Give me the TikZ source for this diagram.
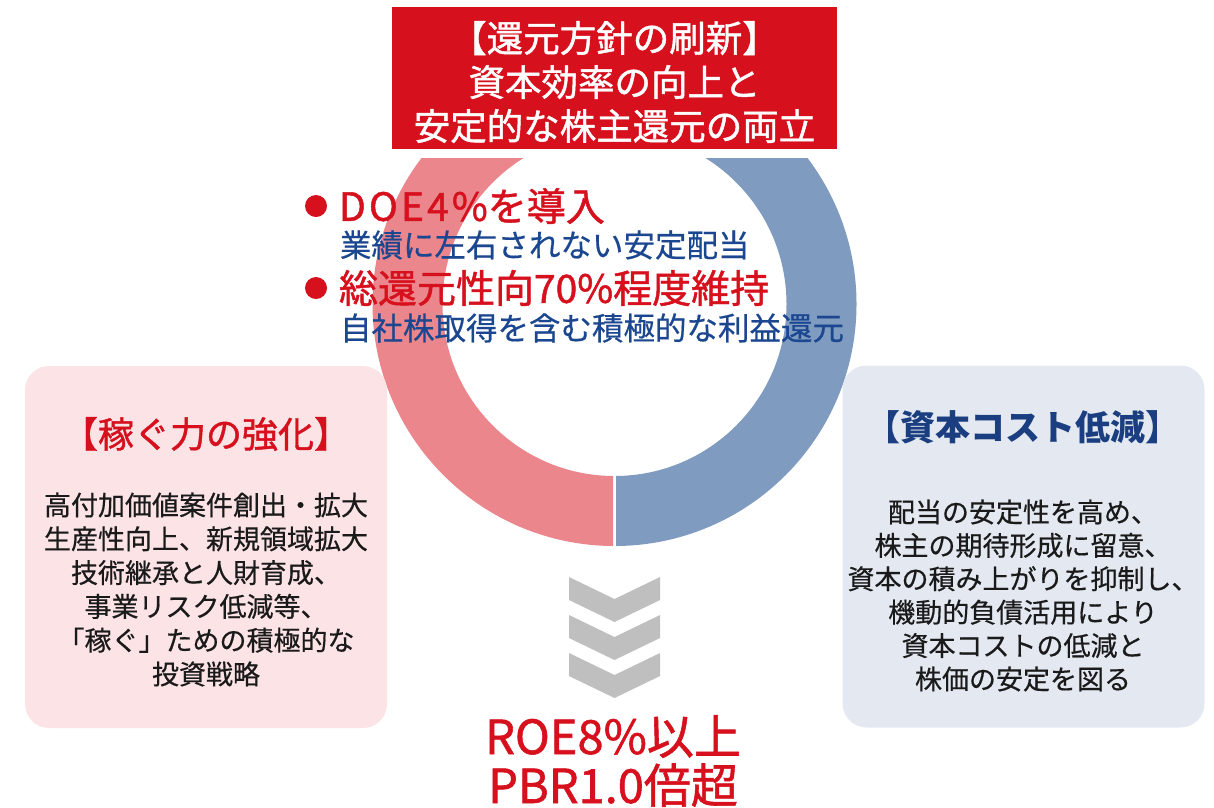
\documentclass[tikz,border=0pt]{standalone}
\usepackage{fontspec}
\setmainfont{Noto Sans CJK JP}
\newfontfamily\jpmed{Noto Sans CJK JP}[FakeBold=1.2]
\newfontfamily\jpsemi{Noto Sans CJK JP}[FakeBold=0.5]
\definecolor{boxred}{HTML}{D7101E}
\definecolor{ringpink}{HTML}{EA868C}
\definecolor{ringblue}{HTML}{7F9BC0}
\definecolor{lfill}{HTML}{FBE3E6}
\definecolor{rfill}{HTML}{E3E8F1}
\definecolor{navy}{HTML}{1B4690}
\definecolor{navyd}{HTML}{1A3E80}
\definecolor{chevgray}{HTML}{BFBFBF}
\definecolor{bodyblack}{HTML}{1A1A1A}
\begin{document}
\begin{tikzpicture}[x=1pt,y=-1pt,
  txt/.style={inner sep=0pt, outer sep=0pt, align=center},
  panel/.style={rounded corners=24pt, minimum width=362pt, minimum height=362pt, inner sep=0pt},
  bulletdot/.style={circle, fill=boxred, minimum size=22pt, inner sep=0pt},
  chev/.style={fill=chevgray}
]
\useasboundingbox (0,0) rectangle (1214,807);
% ring
\coordinate (rc) at (614.5,304);
\begin{scope}
  \clip (0,0) rectangle (613,807);
  \fill[ringpink, even odd rule] (rc) circle[radius=242pt] (rc) circle[radius=172pt];
\end{scope}
\begin{scope}
  \clip (616,0) rectangle (1214,807);
  \fill[ringblue, even odd rule] (rc) circle[radius=242pt] (rc) circle[radius=172pt];
\end{scope}
% white margin and title box
\fill[white] (384,0) rectangle (845,158);
\node[fill=boxred, minimum width=445pt, minimum height=142pt, inner sep=0pt] (titlebox) at (614.5,78) {};
\node[txt, text=white, font=\jpmed\fontsize{36.5}{44}\selectfont] (titletext) at (614.5,82)
  {【還元方針の刷新】\\資本効率の向上と\\安定的な株主還元の両立};
% bullets
\node[bulletdot] (b1) at (316,206) {};
\node[txt, anchor=west, text=boxred, font=\jpmed\fontsize{39}{44}\selectfont] (doe) at (339,206) {{\addfontfeatures{LetterSpace=8}DOE4\%}を導入};
\node[txt, anchor=west, text=navy, font=\jpsemi\fontsize{31.5}{38}\selectfont] (doesub) at (340,245) {業績に左右されない安定配当};
\node[bulletdot] (b2) at (316,288) {};
\node[txt, anchor=west, text=boxred, font=\jpmed\fontsize{39}{44}\selectfont] (tot) at (339,288) {総還元性向70\%程度維持};
\node[txt, anchor=west, text=navy, font=\jpsemi\fontsize{31.5}{38}\selectfont] (totsub) at (340,328) {自社株取得を含む積極的な利益還元};
% left panel
\node[panel, fill=lfill] (lbox) at (206,547) {};
\node[txt, text=boxred, font=\jpmed\fontsize{36}{38}\selectfont] (ltitle) at (206,434) {【稼ぐ力の強化】};
\node[txt, text=bodyblack, font=\jpsemi\fontsize{27}{33.8}\selectfont] (lbody) at (206,589.5)
  {高付加価値案件創出・拡大\\生産性向上、新規領域拡大\\技術継承と人財育成、\\事業リスク低減等、\\「稼ぐ」ための積極的な\\投資戦略};
% right panel
\node[panel, fill=rfill] (rbox) at (1023.5,546.5) {};
\node[txt, text=navyd, font=\fontsize{35}{38}\selectfont\bfseries] (rtitle) at (1023,427) {【資本コスト低減】};
\node[txt, text=bodyblack, font=\jpsemi\fontsize{27}{33.4}\selectfont] (rbody) at (1023,595.5)
  {配当の安定性を高め、\\株主の期待形成に留意、\\資本の積み上がりを抑制し、\\機動的負債活用により\\資本コストの低減と\\株価の安定を図る};
% chevrons
\foreach \dy in {0,38,76}{
  \fill[chev] (569,577+\dy) -- (614.5,599+\dy) -- (660,577+\dy) -- (660,600+\dy) -- (614.5,622+\dy) -- (569,600+\dy) -- cycle;
}
% goal
\node[txt, text=boxred, font=\jpmed\fontsize{47}{49}\selectfont] (goal) at (613,761) {ROE8\%以上\\PBR1.0倍超};
\end{tikzpicture}
\end{document}
